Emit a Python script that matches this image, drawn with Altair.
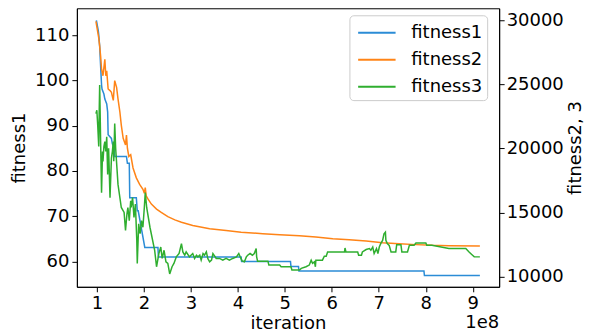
import altair as alt
import pandas as pd

FONT = "DejaVu Sans"

# iteration values are in units of 1e8
x1 = [0.99, 1.03, 1.04, 1.06, 1.08, 1.10, 1.11, 1.15, 1.17, 1.21,
      1.23, 1.24, 1.31, 1.33, 1.37, 1.38, 1.63, 1.65, 1.69, 1.70,
      1.84, 1.86, 1.88, 2.02, 2.30, 2.31, 4.07, 4.08, 5.12,
      5.13, 5.29, 5.30, 7.96, 7.97, 9.15]
y1 = [113.3, 111.0, 110.1, 107.6, 103.2, 99.0, 98.1, 97.0, 95.9, 94.8,
      93.0, 88.0, 87.2, 86.0, 85.0, 83.2, 83.2, 81.7, 81.7, 74.1,
      74.1, 71.2, 71.2, 63.1, 63.1, 61.0, 61.0, 60.0, 60.0,
      58.9, 58.9, 57.9, 57.9, 56.9, 56.9]

x2 = [0.98, 1.04, 1.06, 1.08, 1.10, 1.13, 1.17, 1.19, 1.21, 1.24, 1.28, 1.31,
      1.35, 1.38, 1.42, 1.45, 1.49, 1.52, 1.56, 1.61, 1.63, 1.65, 1.68, 1.72,
      1.77, 1.84, 1.91, 1.98, 2.01, 2.03, 2.05, 2.09, 2.16, 2.27, 2.37, 2.51,
      2.66, 2.80, 3.04, 3.40, 3.75, 4.07, 4.53, 4.89, 5.31, 5.66, 6.02, 6.37,
      6.73, 7.08, 7.43, 7.79, 8.14, 8.49, 9.15]
y2 = [29924, 28636, 27996, 27225, 26192, 25682, 26962, 25682, 26069, 24650, 24525, 24395,
      23755, 25297, 24780, 23878, 22853, 21828, 20794, 20285, 21056, 20023, 19383, 19514,
      18481, 17710, 17201, 16816, 16500, 16950, 16300, 16045, 15659, 15274, 15012, 14680,
      14426, 14241, 13986, 13732, 13600, 13470, 13346, 13269, 13200, 13084, 12960, 12883,
      12776, 12652, 12575, 12498, 12444, 12420, 12390]

x3 = [0.98, 1.00, 1.02, 1.04, 1.05, 1.06, 1.08, 1.10, 1.12, 1.13, 1.15, 1.17,
      1.19, 1.21, 1.23, 1.24, 1.25, 1.28, 1.31, 1.33, 1.35, 1.36, 1.38, 1.40,
      1.45, 1.52, 1.58, 1.61, 1.64, 1.66, 1.69, 1.72, 1.73, 1.76, 1.79, 1.82,
      1.85, 1.86, 1.89, 1.92, 1.95, 1.98, 2.01, 2.03, 2.06, 2.13, 2.23, 2.27,
      2.32, 2.36, 2.39, 2.43, 2.47, 2.51, 2.55, 2.60, 2.64, 2.69, 2.75, 2.80,
      2.83, 2.87, 2.90, 2.97, 3.04, 3.08, 3.12, 3.15, 3.19, 3.22, 3.26, 3.29,
      3.33, 3.36, 3.40, 3.44, 3.47, 3.54, 3.61, 3.68, 3.75, 3.82, 3.89, 3.97,
      4.02, 4.05, 4.09, 4.14, 4.18, 4.21, 4.26, 4.31, 4.35, 4.39, 4.40, 4.42,
      4.64, 4.66, 4.89, 4.92, 5.13, 5.15, 5.31, 5.35, 5.45, 5.52, 5.56, 5.59,
      5.63, 5.65, 5.66, 5.80, 5.84, 5.88, 5.91, 6.27, 6.28, 6.30, 6.55, 6.57,
      6.63, 6.65, 6.73, 6.80, 6.83, 6.87, 6.90, 6.95, 6.98, 7.01, 7.04, 7.08,
      7.11, 7.14, 7.15, 7.18, 7.22, 7.26, 7.36, 7.38, 7.47, 7.49, 7.61, 7.65,
      7.75, 7.79, 8.00, 8.02, 8.13, 8.49, 8.85, 8.92, 9.03, 9.15]
y3 = [22722, 22985, 21696, 20154, 22853, 24958, 20540, 16554, 19768, 18998, 20154, 20540,
      19768, 20925, 17970, 19768, 20020, 16168, 19252, 19768, 20540, 19000, 21951, 20020,
      17201, 15397, 15012, 13600, 14888, 15397, 14372, 15913, 15397, 16168, 14626, 15659,
      12830, 11033, 14117, 13346, 14372, 13855, 15397, 16554, 15397, 13855, 12059, 10771,
      11804, 12313, 11419, 12059, 11157, 11033, 10208, 10771, 11033, 11542, 11804, 12575,
      11928, 11673, 11928, 11542, 11804, 11419, 11673, 11542, 11673, 11288, 11804, 11673,
      11928, 11419, 11157, 11288, 11804, 11419, 11419, 11288, 11419, 11288, 11419, 11542,
      11804, 11542, 11234, 11157, 11542, 11673, 11804, 11673, 11804, 12190, 11542, 11210,
      11210, 10902, 10902, 10771, 10771, 10517, 10517, 10648, 10771, 10902, 11288, 11033,
      11157, 10771, 11288, 11288, 11596, 11596, 11928, 11928, 12236, 11928, 11928, 11673,
      11673, 11928, 12113, 12190, 12059, 12313, 11804, 12190, 11804, 12313, 12575, 12830,
      13346, 13470, 12830, 12575, 12444, 11928, 11928, 12498, 12498, 11928, 11928, 12444,
      12444, 12621, 12621, 12444, 12444, 12190, 12190, 11928, 11542, 11542]

series = ["fitness1", "fitness2", "fitness3"]
colors = ["#2b8cd6", "#ff8417", "#2fae2f"]
x_ticks = [1, 2, 3, 4, 5, 6, 7, 8, 9]
left_ticks = [60, 70, 80, 90, 100, 110]
right_ticks = [10000, 15000, 20000, 25000, 30000]


def frame(xs, ys, name):
    return pd.DataFrame({"iteration": xs, "value": ys, "series": name,
                         "idx": list(range(len(xs)))})


df1 = frame(x1, y1, "fitness1")
df23 = pd.concat([frame(x2, y2, "fitness2"), frame(x3, y3, "fitness3")])

xenc = alt.X("iteration:Q",
             scale=alt.Scale(domain=[0.575, 9.56], nice=False, zero=False),
             axis=alt.Axis(values=x_ticks, format="d", title="iteration",
                           titlePadding=2))

color = alt.Color(
    "series:N",
    scale=alt.Scale(domain=series, range=colors),
    legend=alt.Legend(
        title=None, orient="none", legendX=273, legendY=7,
        labelFont=FONT, labelFontSize=18, labelColor="black",
        labelExpr="datum.label + ' '",
        symbolType="M-0.7,0H2.3", symbolSize=625, symbolStrokeWidth=2,
        symbolFillColor="transparent",
        padding=4, rowPadding=4, labelOffset=31,
        strokeColor="#cccccc", fillColor="white", cornerRadius=4,
    ),
)

left = alt.Chart(df1).mark_line(strokeWidth=1.5).encode(
    x=xenc,
    y=alt.Y("value:Q",
            scale=alt.Scale(domain=[54.4, 115.96], nice=False, zero=False),
            axis=alt.Axis(orient="left", values=left_ticks, format="d",
                          title="fitness1", titlePadding=6)),
    color=color,
    order="idx:Q",
)

right = alt.Chart(df23).mark_line(strokeWidth=1.5).encode(
    x=xenc,
    y=alt.Y("value:Q",
            scale=alt.Scale(domain=[9206, 30948], nice=False, zero=False),
            axis=alt.Axis(orient="right", values=right_ticks, format="d",
                          labelPadding=2, title="fitness2, 3", titleAngle=270,
                          titleBaseline="top", titlePadding=3)),
    color=color,
    order="idx:Q",
)

offset_label = alt.Chart(pd.DataFrame({"t": ["1e8"]})).mark_text(
    font=FONT, fontSize=18, align="right", baseline="alphabetic", color="black"
).encode(text="t:N", x=alt.value(423), y=alt.value(320))

chart = alt.layer(left, right, offset_label).resolve_scale(
    y="independent"
).properties(
    width=423, height=279,
    padding={"left": 2, "top": 0, "right": 0, "bottom": 0},
).configure_axis(
    labelFont=FONT, titleFont=FONT, labelFontSize=18, titleFontSize=18,
    titleFontWeight="normal", labelColor="black", titleColor="black",
    tickColor="black", domainColor="black", grid=False, tickSize=5,
    labelPadding=3,
).configure_view(stroke="black", strokeWidth=1)

chart.save("out.html", embed_options={"renderer": "svg", "actions": False})
